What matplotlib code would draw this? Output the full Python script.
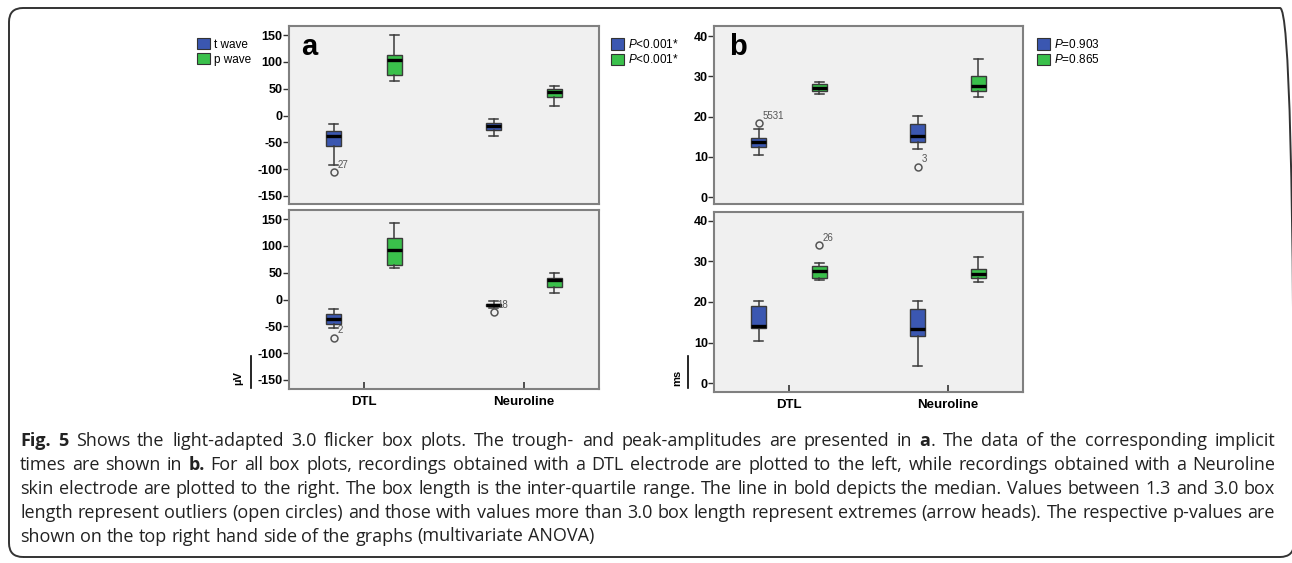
import matplotlib
matplotlib.use("Agg")
import matplotlib.pyplot as plt
from matplotlib.patches import Patch, FancyBboxPatch
from matplotlib.lines import Line2D
import matplotlib.transforms as mtransforms

plt.rcParams["font.family"] = ["Liberation Sans", "DejaVu Sans"]
plt.rcParams["axes.unicode_minus"] = False
plt.rcParams["mathtext.fontset"] = "custom"
plt.rcParams["mathtext.it"] = "Liberation Sans:italic"
plt.rcParams["mathtext.rm"] = "Liberation Sans"

# Daten: low whisker, q1, median, q3, high whisker
# Reihenfolge je Panel: DTL t, DTL p, Neuroline t, Neuroline p
categories = ["DTL", "Neuroline"]
series = ["t wave", "p wave"]
a_top = [[-92.5, -57.5, -39, -29, -15.6], [64, 76, 104, 112.5, 150],
         [-38, -27, -19, -14, -6], [17.5, 34, 44, 49, 56]]
a_top_out = [(0, -105, "27")]
a_bot = [[-52.5, -45, -35.6, -27.5, -18], [58, 64, 92, 114, 142.5],
         [-15, -12.5, -10, -8, -3], [12.5, 24, 36, 40.6, 49]]
a_bot_out = [(0, -71, "2"), (2, -24, "18")]
b_top = [[10.5, 12.5, 13.6, 14.6, 16.9], [25.5, 26.4, 27.1, 28, 28.5],
         [12.0, 13.6, 15.2, 18.1, 20.2], [24.9, 26.4, 27.6, 30, 34.2]]
b_top_out = [(0, 18.5, "5531"), (2, 7.6, "3")]
b_bot = [[10.5, 13.7, 14.2, 19, 20.2], [25.5, 26, 27.6, 29, 29.6],
         [4.1, 11.5, 13.4, 18.3, 20.2], [24.9, 26, 27, 28.1, 31]]
b_bot_out = [(1, 34.1, "26")]
a_ticks = [-150, -100, -50, 0, 50, 100, 150]
b_ticks = [0, 10, 20, 30, 40]
legend_a = ["t wave", "p wave"]
legend_pa = ["$P$<0.001*", "$P$<0.001*"]
legend_pb = ["$P$=0.903", "$P$=0.865"]

caption = [
    "**Fig.** **5** Shows the light-adapted 3.0 flicker box plots. The trough- and peak-amplitudes are presented in **a**. The data of the corresponding implicit",
    "times are shown in **b.** For all box plots, recordings obtained with a DTL electrode are plotted to the left, while recordings obtained with a Neuroline",
    "skin electrode are plotted to the right. The box length is the inter-quartile range. The line in bold depicts the median. Values between 1.3 and 3.0 box",
    "length represent outliers (open circles) and those with values more than 3.0 box length represent extremes (arrow heads). The respective p-values are",
    "shown on the top right hand side of the graphs (multivariate ANOVA)",
]

BLUE = "#3b57b1"
GREEN = "#3ac04b"
W, H = 1292, 563

fig = plt.figure(figsize=(W / 100, H / 100), dpi=100)
pix = mtransforms.Affine2D().scale(1 / W, 1 / H) + fig.transFigure


def add_ax(x0, y0, x1, y1):
    return fig.add_axes([x0 / W, 1 - y1 / H, (x1 - x0) / W, (y1 - y0) / H])


def draw_panel(ax, stats, outs, ylim, ticks, bottom):
    colors = [BLUE, GREEN, BLUE, GREEN]
    pos = [0 - 0.19, 0 + 0.19, 1 - 0.19, 1 + 0.19]
    bstats = []
    for i, s in enumerate(stats):
        fl = [v for (j, v, _) in outs if j == i]
        bstats.append(dict(whislo=s[0], q1=s[1], med=s[2], q3=s[3], whishi=s[4], fliers=fl))
    res = ax.bxp(bstats, positions=pos, widths=0.095, patch_artist=True,
                 boxprops=dict(edgecolor="#3a3a3a", linewidth=1.0),
                 medianprops=dict(color="black", linewidth=2.4),
                 whiskerprops=dict(color="#3a3a3a", linewidth=1.1),
                 capprops=dict(color="#3a3a3a", linewidth=1.1),
                 capwidths=0.055,
                 flierprops=dict(marker="o", markersize=5, markerfacecolor="none",
                                 markeredgecolor="#555555", markeredgewidth=1.1))
    for b, c in zip(res["boxes"], colors):
        b.set_facecolor(c)
    for j, v, lab in outs:
        ax.annotate(lab, (pos[j], v), xytext=(2.5, 1.5), textcoords="offset points",
                    fontsize=7, color="#555555", ha="left", va="bottom")
    ax.set_facecolor("#f0f0f0")
    ax.set_xlim(-0.47, 1.47)
    ax.set_ylim(*ylim)
    ax.set_yticks(ticks)
    ax.set_yticklabels([str(t) for t in ticks], fontweight="bold", fontsize=9)
    ax.tick_params(axis="y", direction="out", length=4, width=1, color="#333333", pad=0.5)
    for sp in ax.spines.values():
        sp.set_color("#808080")
        sp.set_linewidth(1.5)
    if bottom:
        ax.set_xticks([0, 1])
        ax.set_xticklabels(categories, fontweight="bold", fontsize=9.5)
        ax.tick_params(axis="x", direction="in", length=5, width=1.2, color="#333333", pad=5)
    else:
        ax.set_xticks([])


ax1 = add_ax(289, 26, 599, 204)
ax2 = add_ax(289, 210, 599, 389)
ax3 = add_ax(714, 26, 1023, 204)
ax4 = add_ax(714, 212, 1023, 392)
draw_panel(ax1, a_top, a_top_out, (-165, 167), a_ticks, False)
draw_panel(ax2, a_bot, a_bot_out, (-167, 167), a_ticks, True)
draw_panel(ax3, b_top, b_top_out, (-1.7, 42.5), b_ticks, False)
draw_panel(ax4, b_bot, b_bot_out, (-2.2, 42.2), b_ticks, True)

ax1.text(0.04, 0.835, "a", transform=ax1.transAxes, fontsize=21, fontweight="bold", va="baseline")
ax3.text(0.05, 0.835, "b", transform=ax3.transAxes, fontsize=21, fontweight="bold", va="baseline")


def legend(labels, x, y):
    handles = [Patch(facecolor=c, edgecolor="#333333", linewidth=0.8) for c in (BLUE, GREEN)]
    fig.legend(handles, labels, loc="upper left", bbox_to_anchor=(x / W, 1 - y / H),
               frameon=False, fontsize=8.5, handlelength=1.1, handleheight=1.1,
               handletextpad=0.3, borderpad=0, borderaxespad=0, labelspacing=0.2)


legend(legend_a, 197, 38)
legend(legend_pa, 611, 38)
legend(legend_pb, 1037, 38)

# Einheiten links neben den unteren Achsen
fig.text(238 / W, 1 - 378 / H, "µV", rotation=90, fontsize=8, fontweight="bold", ha="center", va="center")
fig.text(677 / W, 1 - 378 / H, "ms", rotation=90, fontsize=8, fontweight="bold", ha="center", va="center")
for x in (251, 688):
    fig.add_artist(Line2D([x, x], [H - 388, H - 356], transform=pix, color="black", linewidth=1.2))

# Rahmen
fig.add_artist(FancyBboxPatch((9, 6), 1285, 549, boxstyle="round,pad=0,rounding_size=14",
                              transform=pix, facecolor="none", edgecolor="#333333", linewidth=1.4))

# Bildunterschrift, Blocksatz
renderer = fig.canvas.get_renderer()
cap_font = dict(fontfamily="Open Sans", fontsize=13, color="#222222")
x_left, x_right = 20, 1275
helpers = []
for k, line in enumerate(caption):
    base = 446.5 + 23.75 * k
    words = []
    for w in line.split(" "):
        segs = []
        parts = w.split("**")
        for i, p in enumerate(parts):
            if p:
                segs.append((p, i % 2 == 1))
        words.append(segs)
    items = []
    total = 0
    for segs in words:
        ws = []
        for txt, bold in segs:
            t = fig.text(0, 0, txt, fontweight="bold" if bold else "normal", **cap_font)
            wdt = t.get_window_extent(renderer).width
            ws.append((t, wdt))
            total += wdt
        items.append(ws)
    h1 = fig.text(0, 0, "a a", **cap_font)
    h2 = fig.text(0, 0, "aa", **cap_font)
    space = h1.get_window_extent(renderer).width - h2.get_window_extent(renderer).width
    helpers += [h1, h2]
    if k < len(caption) - 1:
        gap = (x_right - x_left - total) / (len(items) - 1)
    else:
        gap = space
    x = x_left
    for ws in items:
        for t, wdt in ws:
            t.set_position((x / W, 1 - base / H))
            t.set_va("baseline")
            x += wdt
        x += gap
for h in helpers:
    h.remove()

fig.savefig("out.png", dpi=100)
